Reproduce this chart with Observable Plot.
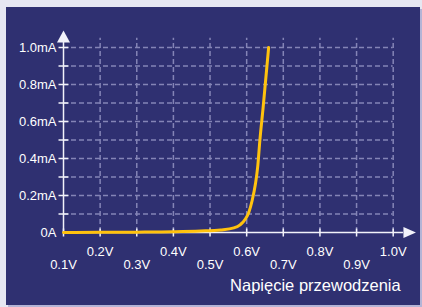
<!DOCTYPE html>
<html>
<head>
<meta charset="utf-8">
<script src="https://cdn.jsdelivr.net/npm/d3@7"></script>
<script src="https://cdn.jsdelivr.net/npm/@observablehq/plot@0.6"></script>
<style>
  html, body { margin: 0; padding: 0; background: #e6e7f2; width: 422px; height: 307px; overflow: hidden; }
  #panel { position: absolute; left: 6px; top: 7px; width: 414px; height: 298px; background: #2f3071; box-shadow: 2px 2px 0 #b4b4d6; }
  #chart { position: absolute; left: 0; top: 0; }
</style>
</head>
<body>
<div id="panel"></div>
<div id="chart"></div>
<script>
// Forward voltage (V) and current (mA)
const voltage = [0.1, 0.2, 0.3, 0.4, 0.474, 0.529, 0.565, 0.583, 0.597, 0.606, 0.615, 0.624, 0.630, 0.636, 0.645, 0.660];
const current = [0.0, 0.001, 0.002, 0.004, 0.008, 0.014, 0.025, 0.043, 0.074, 0.11, 0.173, 0.263, 0.353, 0.497, 0.677, 1.0];

const xTicks = [0.1, 0.2, 0.3, 0.4, 0.5, 0.6, 0.7, 0.8, 0.9, 1.0];
const xTickLabels = ["0.1V", "0.2V", "0.3V", "0.4V", "0.5V", "0.6V", "0.7V", "0.8V", "0.9V", "1.0V"];
const yTicks = [0, 0.2, 0.4, 0.6, 0.8, 1.0];
const yTickLabels = ["0A", "0.2mA", "0.4mA", "0.6mA", "0.8mA", "1.0mA"];
const yMinorTicks = [0.1, 0.2, 0.3, 0.4, 0.5, 0.6, 0.7, 0.8, 0.9, 1.0];
const xTitle = "Napięcie przewodzenia";

const xMin = 0.1, xMax = 1.0, yMin = 0, yMax = 1.0;
const xAxisEnd = 1.028, yAxisEnd = 1.027, gridTop = 1.05;

const curve = voltage.map((v, i) => ({v, i: current[i]}));
const xLab = xTicks.map((v, i) => ({v, label: xTickLabels[i], row: i % 2}));
const xLabLower = xLab.filter(d => d.row === 0);
const xLabUpper = xLab.filter(d => d.row === 1);
const yLab = yTicks.map((v, i) => ({v, label: yTickLabels[i]}));

const hTick = {draw(ctx) { ctx.moveTo(-5, 0); ctx.lineTo(5, 0); }};
const vTick = {draw(ctx) { ctx.moveTo(0, -4); ctx.lineTo(0, 4); }};
const upHead = {draw(ctx) { ctx.moveTo(0, -12); ctx.lineTo(6.5, 0); ctx.lineTo(-6.5, 0); ctx.closePath(); }};
const rightHead = {draw(ctx) { ctx.moveTo(12.5, 0); ctx.lineTo(0, -5.5); ctx.lineTo(0, 5.5); ctx.closePath(); }};

const gridColor = "#8484b6";
const axisColor = "#f2f2fa";
const font = "Arial, 'Liberation Sans', sans-serif";

const chart = Plot.plot({
  width: 422,
  height: 307,
  marginLeft: 63,
  marginRight: 29.3,
  marginTop: 47,
  marginBottom: 75,
  style: {background: "transparent", overflow: "visible", fontFamily: font},
  x: {domain: [xMin, xMax], axis: null},
  y: {domain: [yMin, yMax], axis: null},
  marks: [
    Plot.ruleY(yMinorTicks, {y: d => d, x1: xMin, x2: xMax, stroke: gridColor, strokeWidth: 1.5, strokeDasharray: "5,3"}),
    Plot.ruleX(xTicks.slice(1), {x: d => d, y1: yMin, y2: gridTop, stroke: gridColor, strokeWidth: 1.5, strokeDasharray: "5,3"}),
    Plot.ruleX([xMin], {x: d => d, y1: yMin, y2: yAxisEnd, stroke: axisColor, strokeWidth: 1.5}),
    Plot.ruleY([yMin], {y: d => d, x1: xMin, x2: xAxisEnd, stroke: axisColor, strokeWidth: 1.5}),
    Plot.dot(yMinorTicks, {x: xMin, y: d => d, symbol: hTick, stroke: axisColor, strokeWidth: 1.5, fill: "none"}),
    Plot.dot(xTicks, {x: d => d, y: yMin, symbol: vTick, stroke: axisColor, strokeWidth: 1.5, fill: "none"}),
    Plot.dot([0], {x: xMin, y: yAxisEnd, symbol: upHead, fill: axisColor, stroke: "none"}),
    Plot.dot([0], {x: xAxisEnd, y: yMin, symbol: rightHead, fill: axisColor, stroke: "none"}),
    Plot.line(curve, {x: "v", y: "i", stroke: "#ffc20e", strokeWidth: 3, curve: "monotone-x"}),
    Plot.text(yLab, {x: xMin, y: "v", text: "label", dx: -7, textAnchor: "end", fill: "white", fontSize: 13, fontFamily: font}),
    Plot.text(xLabUpper, {x: "v", y: yMin, text: "label", dy: 19, fill: "white", fontSize: 13, fontFamily: font}),
    Plot.text(xLabLower, {x: "v", y: yMin, text: "label", dy: 32, fill: "white", fontSize: 13, fontFamily: font}),
    Plot.text([xTitle], {x: xMax, y: yMin, text: d => d, dx: 7.5, dy: 53, textAnchor: "end", fill: "white", fontSize: 16.5, fontFamily: font})
  ]
});
document.getElementById("chart").appendChild(chart);
</script>
</body>
</html>
